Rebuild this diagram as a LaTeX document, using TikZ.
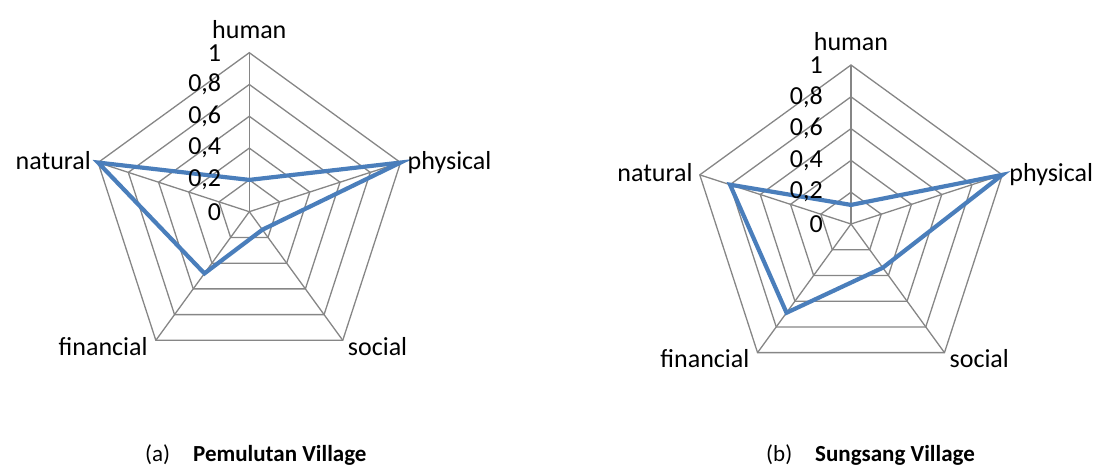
\documentclass[tikz,border=0pt]{standalone}
\usepackage{fontspec}
\setmainfont{Carlito}
\definecolor{gridgray}{HTML}{868686}
\definecolor{seriesblue}{HTML}{4A7EBB}
\tikzset{
  grid/.style={draw=gridgray, line width=1.3pt},
  series/.style={draw=seriesblue, line width=4.2pt, line join=miter},
  axislabel/.style={font=\fontsize{26}{30}\selectfont, inner sep=0pt},
  ticklabel/.style={font=\fontsize{26}{30}\selectfont, inner sep=0pt, anchor=east},
  caption/.style={font=\fontsize{23}{27}\selectfont, inner sep=0pt, anchor=base west},
}
% #1 prefix, #2 cx, #3 cy, #4..#8 values human, physical, social, financial, natural
\newcommand\radarchart[8]{%
  \coordinate (#1c) at (#2,#3);
  \foreach \ang [count=\i] in {90,18,-54,-126,162}{
    \foreach \k in {1,...,5}{
      \coordinate (#1v\i r\k) at ($(#1c)+(\ang:{159*\k/5})$);
    }
  }
  \foreach \k in {1,...,5}{
    \draw[grid] (#1v1r\k) -- (#1v2r\k) -- (#1v3r\k) -- (#1v4r\k) -- (#1v5r\k) -- cycle;
  }
  \foreach \i in {1,...,5}{
    \draw[grid] (#1c) -- (#1v\i r5);
  }
  \coordinate (#1p1) at ($(#1c)+(90:{159*#4})$);
  \coordinate (#1p2) at ($(#1c)+(18:{159*#5})$);
  \coordinate (#1p3) at ($(#1c)+(-54:{159*#6})$);
  \coordinate (#1p4) at ($(#1c)+(-126:{159*#7})$);
  \coordinate (#1p5) at ($(#1c)+(162:{159*#8})$);
  \draw[series] (#1p1) -- (#1p2) -- (#1p3) -- (#1p4) -- (#1p5) -- cycle;
  \node[axislabel, anchor=base] (#1human) at ($(#1v1r5)+(0,14)$) {human};
  \node[axislabel, anchor=base west] (#1physical) at ($(#1v2r5)+(7,-7)$) {physical};
  \node[axislabel, anchor=base west] (#1social) at ($(#1v3r5)+(5,-15)$) {social};
  \node[axislabel, anchor=base east] (#1financial) at ($(#1v4r5)+(-8,-15)$) {financial};
  \node[axislabel, anchor=base east] (#1natural) at ($(#1v5r5)+(-7,-7)$) {natural};
  \node[ticklabel] (#1t0) at ($(#1c)+(-28,0)$) {0};
  \node[ticklabel] (#1t1) at ($(#1c)+(-28,31.8)$) {0,2};
  \node[ticklabel] (#1t2) at ($(#1c)+(-28,63.6)$) {0,4};
  \node[ticklabel] (#1t3) at ($(#1c)+(-28,95.4)$) {0,6};
  \node[ticklabel] (#1t4) at ($(#1c)+(-28,127.2)$) {0,8};
  \node[ticklabel] (#1t5) at ($(#1c)+(-28,159)$) {1};
}
\usetikzlibrary{calc}
\begin{document}
\begin{tikzpicture}[x=1pt,y=1pt]
\useasboundingbox (0,0) rectangle (1097,466);
\radarchart{a}{249.3}{254.3}{0.2}{1}{0.14}{0.48}{1}
\radarchart{b}{851}{242}{0.12}{1}{0.34}{0.69}{0.8}
\node[caption] (capa) at (145,5) {(a)};
\node[caption, font=\fontsize{23}{27}\selectfont\bfseries] (tita) at (193,5) {Pemulutan Village};
\node[caption] (capb) at (766,5) {(b)};
\node[caption, font=\fontsize{23}{27}\selectfont\bfseries] (titb) at (815,5) {Sungsang Village};
\end{tikzpicture}
\end{document}
